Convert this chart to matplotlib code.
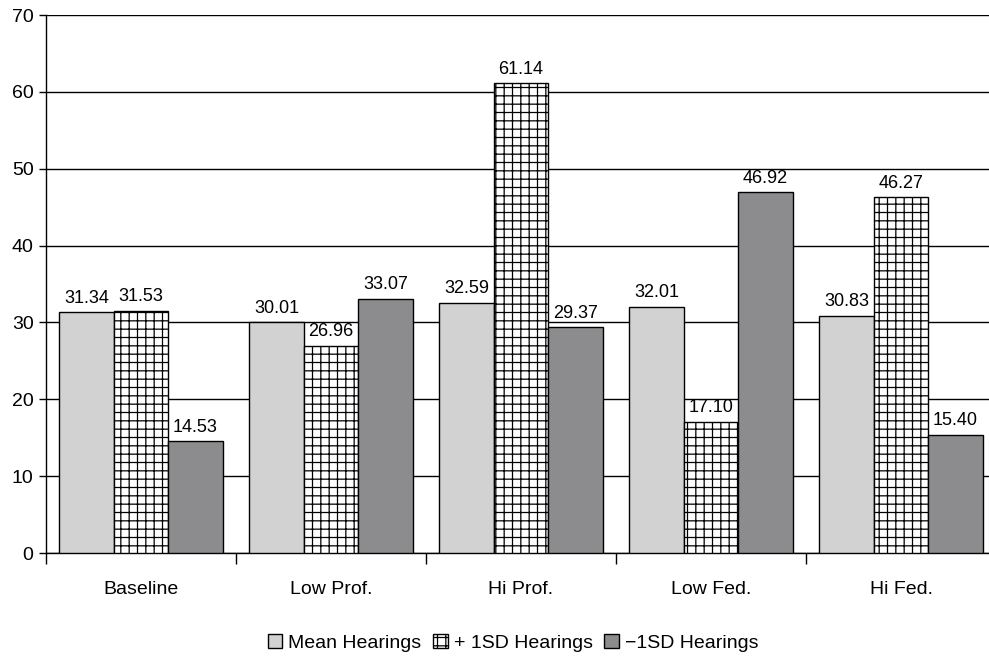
import matplotlib
matplotlib.use("Agg")
import matplotlib.pyplot as plt
import numpy as np

plt.rcParams["font.family"] = ["Liberation Sans", "DejaVu Sans"]
plt.rcParams["hatch.linewidth"] = 0.9

categories = ["Baseline", "Low Prof.", "Hi Prof.", "Low Fed.", "Hi Fed."]
series_names = ["Mean Hearings", "+ 1SD Hearings", "\u22121SD Hearings"]
mean_hearings = [31.34, 30.01, 32.59, 32.01, 30.83]
plus_sd_hearings = [31.53, 26.96, 61.14, 17.10, 46.27]
minus_sd_hearings = [14.53, 33.07, 29.37, 46.92, 15.40]

fig = plt.figure(figsize=(9.89, 6.57), dpi=100)
ax = fig.add_axes([46 / 989, 104 / 657, 950 / 989, 538 / 657])

x = np.arange(len(categories))
width = 0.287
styles = [
    dict(facecolor="#d2d2d2", hatch=None),
    dict(facecolor="white", hatch="++"),
    dict(facecolor="#8c8c8e", hatch=None),
]
series = [mean_hearings, plus_sd_hearings, minus_sd_hearings]

ax.set_axisbelow(True)
ax.yaxis.grid(True, color="black", linewidth=1.0)
handles = []
for i, (values, style, name) in enumerate(zip(series, styles, series_names)):
    bars = ax.bar(x + (i - 1) * width, values, width, edgecolor="black",
                  linewidth=1.0, label=name, zorder=3, **style)
    handles.append(bars)
    for rect, v in zip(bars, values):
        ax.annotate(f"{v:.2f}", (rect.get_x() + rect.get_width() / 2, v),
                    xytext=(0, 4), textcoords="offset points",
                    ha="center", va="bottom", fontsize=13, zorder=4)

ax.set_xlim(-0.5, len(categories) - 0.5)
ax.set_ylim(0, 70)
ax.set_yticks(np.arange(0, 71, 10))
ax.tick_params(axis="y", labelsize=14, length=5, width=1, direction="out", pad=4)

ax.set_xticks(np.arange(-0.5, len(categories), 1.0))
ax.set_xticklabels([])
ax.tick_params(axis="x", which="major", length=8, width=1, direction="out")
ax.set_xticks(x, minor=True)
ax.set_xticklabels(categories, minor=True, fontsize=14)
ax.tick_params(axis="x", which="minor", length=0, pad=20)

for side in ["top", "right"]:
    ax.spines[side].set_visible(False)
ax.spines["left"].set_linewidth(1.0)
ax.spines["bottom"].set_linewidth(1.0)

fig.legend(handles=handles, loc="center", bbox_to_anchor=(513 / 989, 1 - 643 / 657),
           ncol=3, frameon=False, fontsize=14, handlelength=0.75,
           handleheight=0.75, handletextpad=0.3, columnspacing=0.6)

fig.savefig("out.png", dpi=100)
